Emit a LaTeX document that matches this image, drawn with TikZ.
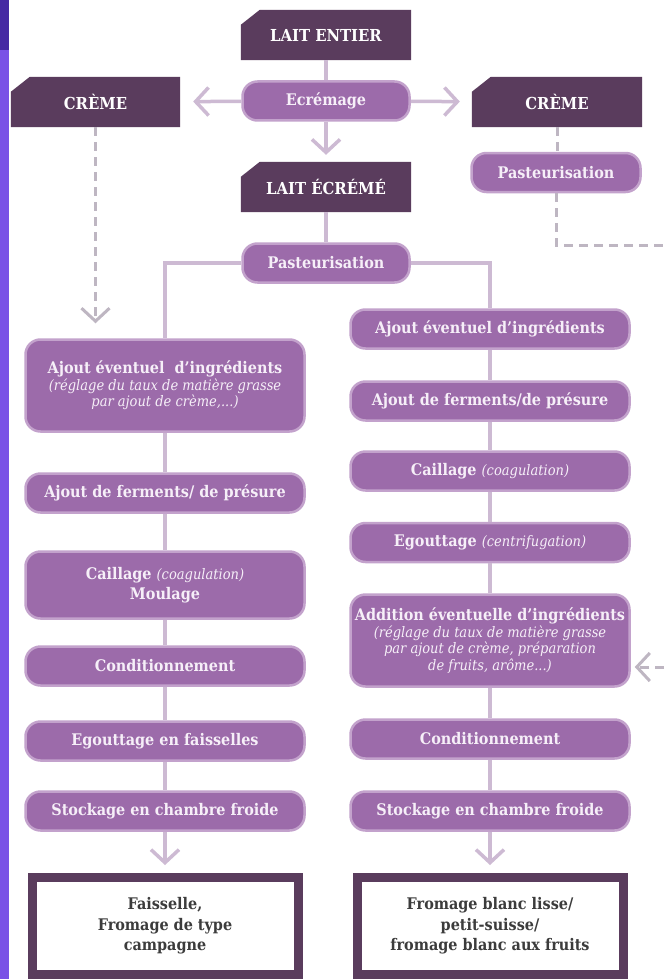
\documentclass[tikz,border=0pt]{standalone}
\usepackage{fontspec}
\setmainfont{DejaVu Serif Condensed}
\usetikzlibrary{arrows.meta,backgrounds}
\definecolor{plum}{HTML}{5A3C5D}
\definecolor{orchid}{HTML}{9C6BAA}
\definecolor{orchidrim}{HTML}{C3A2CC}
\definecolor{lilac}{HTML}{CDBAD3}
\definecolor{smoke}{HTML}{BEB6C2}
\definecolor{inkgray}{HTML}{3C3C3C}
\definecolor{milk}{HTML}{F6EFF8}
\definecolor{violet}{HTML}{7A52E6}
\definecolor{indigo}{HTML}{4629A3}
\newcommand\pillfont{\fontsize{16}{16.5}\selectfont\bfseries}
\newcommand\notefont{\fontsize{14.5}{16.5}\selectfont\mdseries\itshape}
\newcommand\capsfont{\fontsize{16.5}{18}\selectfont\bfseries}
\newcommand\cheesefont{\fontsize{16}{20.5}\selectfont\bfseries}

\begin{document}
\begin{tikzpicture}[x=1pt,y=-1pt,
    pill/.style={fill=orchid,draw=orchidrim,line width=2.5pt,rounded corners=15pt,
      text=milk,font=\pillfont,align=center,inner sep=0pt,
      minimum width=279pt,minimum height=39pt},
    headbox/.style={text=white,font=\capsfont,inner sep=0pt,
      minimum width=170pt,minimum height=50pt},
    endbox/.style={draw=plum,line width=9pt,fill=white,text=inkgray,font=\cheesefont,
      align=center,minimum width=266pt,minimum height=97pt},
    link/.style={draw=lilac,line width=3.5pt},
    flow/.style={link,-{Straight Barb[length=13pt,width=28pt]}},
    dashlink/.style={draw=smoke,line width=3pt,dash pattern=on 9pt off 6pt},
    dashflow/.style={dashlink,-{Straight Barb[length=13pt,width=28pt]}}]
  \useasboundingbox (0,0) rectangle (664,979);
  \fill[violet] (0,0) rectangle (8.5,979);
  \fill[indigo] (0,0) rectangle (8.5,50);

  % top part
  \node[headbox] (entier) at (326,35) {LAIT ENTIER};
  \node[pill,minimum width=167pt] (ecremage) at (326,101) {Ecrémage};
  \node[headbox,minimum width=169pt] (cremeL) at (95.5,102) {CRÈME};
  \node[headbox] (cremeR) at (557,102) {CRÈME};
  \node[headbox] (ecreme) at (326,187) {LAIT ÉCRÉMÉ};
  \node[pill,minimum width=167pt] (past) at (326,263) {Pasteurisation};
  \node[pill,minimum width=169pt] (pastR) at (556,172.5) {Pasteurisation};

  % left column
  \node[pill,minimum height=92pt] (l1) at (165,385.5)
    {Ajout éventuel\ \ d’ingrédients\\{\notefont (réglage du taux de matière grasse}\\{\notefont par ajout de crème,...)}};
  \node[pill] (l2) at (165,493) {Ajout de ferments/ de présure};
  \node[pill,minimum height=67pt] (l3) at (165,585)
    {Caillage {\notefont (coagulation)}\\[3.5pt]Moulage};
  \node[pill] (l4) at (165,666) {Conditionnement};
  \node[pill] (l5) at (165,741) {Egouttage en faisselles};
  \node[pill] (l6) at (165,811) {Stockage en chambre froide};
  \node[endbox] (lend) at (165,926) {Faisselle,\\Fromage de type\\campagne};

  % right column
  \node[pill] (r1) at (490,329) {Ajout éventuel d’ingrédients};
  \node[pill] (r2) at (490,401) {Ajout de ferments/de présure};
  \node[pill] (r3) at (490,471) {Caillage {\notefont (coagulation)}};
  \node[pill] (r4) at (490,542.5) {Egouttage {\notefont (centrifugation)}};
  \node[pill,minimum height=92pt] (r5) at (490,640.5)
    {Addition éventuelle d’ingrédients\\{\notefont (réglage du taux de matière grasse}\\{\notefont par ajout de crème, préparation}\\{\notefont de fruits, arôme...)}};
  \node[pill] (r6) at (490,739) {Conditionnement};
  \node[pill] (r7) at (490,811) {Stockage en chambre froide};
  \node[endbox] (rend) at (490,926) {Fromage blanc lisse/\\petit-suisse/\\fromage blanc aux fruits};

  \coordinate (outR) at (664,245);
  \coordinate (inR) at (664,667);

  \begin{scope}[on background layer]
    \fill[white] (0,0) rectangle (664,979);
    \foreach \n in {entier,cremeL,cremeR,ecreme}
      \fill[plum] (\n.south west) -- ([yshift=-15pt]\n.north west)
        -- ([xshift=19pt]\n.north west) -- (\n.north east) -- (\n.south east) -- cycle;
  \end{scope}

  \draw[link] (entier) -- (ecremage);
  \draw[flow,shorten >=13pt] (ecremage) -- (cremeL);
  \draw[flow,shorten >=12pt] (ecremage) -- (cremeR);
  \draw[flow,shorten >=7pt] (ecremage) -- (ecreme);
  \draw[link] (ecreme) -- (past);
  \draw[link] (past.west) -| (l1.north);
  \draw[link] (past.east) -| (r1.north);
  \foreach \a/\b in {l1/l2,l2/l3,l3/l4,l4/l5,l5/l6,r1/r2,r2/r3,r3/r4,r4/r5,r5/r6,r6/r7}
    \draw[link] (\a) -- (\b);
  \draw[flow,shorten >=8pt] (l6) -- (lend);
  \draw[flow,shorten >=8pt] (r7) -- (rend);

  % cream lines
  \draw[dashflow,shorten >=15pt] (cremeL.south) -- (cremeL.south |- l1.north);
  \draw[dashlink] (cremeR.south) -- (cremeR.south |- pastR.north);
  \draw[dashlink] (pastR.south) |- (outR);
  \draw[dashflow,shorten >=4pt] (inR) -- (inR -| r5.east);
\end{tikzpicture}
\end{document}
